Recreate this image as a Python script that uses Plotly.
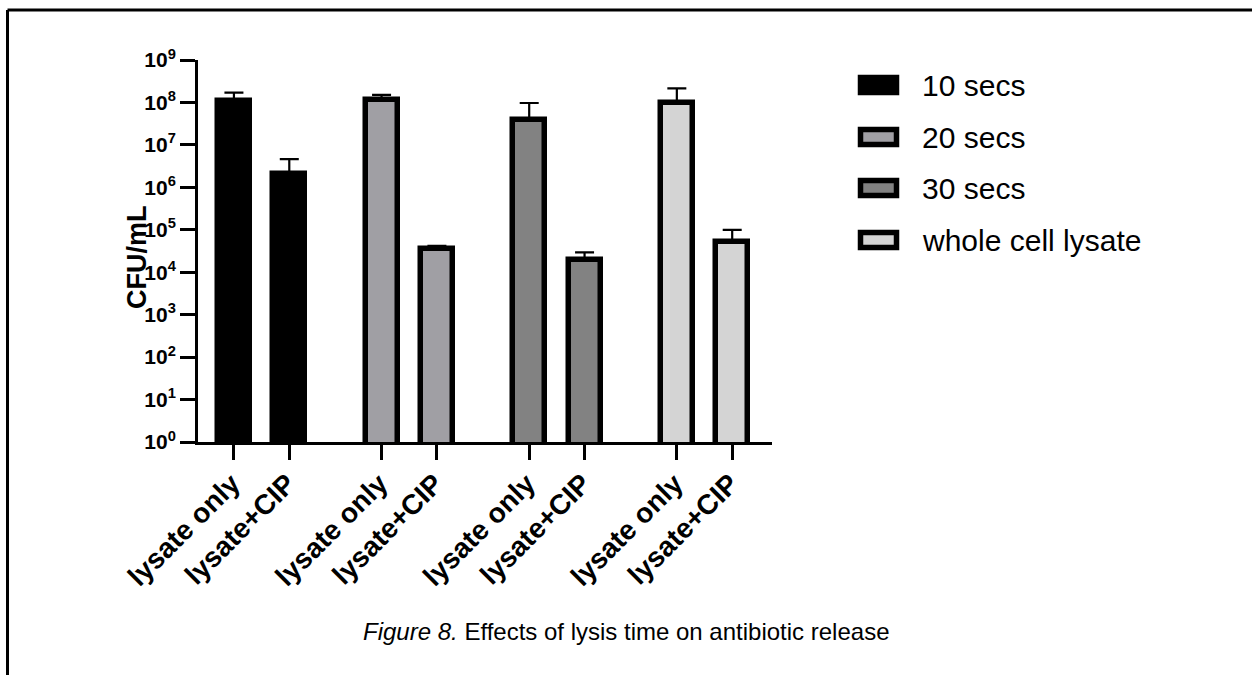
import plotly.graph_objects as go

# ---- data -------------------------------------------------------------
groups = ["10 secs", "20 secs", "30 secs", "whole cell lysate"]
conditions = ["lysate only", "lysate+CIP"]
# mean CFU/mL for (lysate only, lysate+CIP) in each lysis-time group
means = {
    "10 secs": [1.1e8, 2.1e6],
    "20 secs": [1.15e8, 3.45e4],
    "30 secs": [3.8e7, 1.9e4],
    "whole cell lysate": [9.8e7, 5.15e4],
}
# upper error (value + error) for each bar
upper = {
    "10 secs": [1.7e8, 4.6e6],
    "20 secs": [1.5e8, 4.2e4],
    "30 secs": [9.7e7, 2.95e4],
    "whole cell lysate": [2.15e8, 1.0e5],
}
ytick_exponents = list(range(0, 10))

# ---- styling ----------------------------------------------------------
fills = {
    "10 secs": "#000000",
    "20 secs": "#a09fa4",
    "30 secs": "#828282",
    "whole cell lysate": "#d4d4d4",
}
FONT = "Arial, Liberation Sans, sans-serif"
W, H = 1252, 675
L, R, T, B = 198, 772, 60, 442          # plot area in page pixels
GROUP_STEP = 2.667                       # distance between groups (bar pitch = 1)
BAR_W = 0.577

def px_x(px):
    return (px - L) / (R - L)

def px_y(py):
    return (B - py) / (B - T)

fig = go.Figure()
tickvals, ticktext = [], []
for gi, g in enumerate(groups):
    xs = [gi * GROUP_STEP + ci for ci in range(len(conditions))]
    tickvals += xs
    ticktext += [f"<b>{c}</b>" for c in conditions]
    fig.add_trace(go.Bar(
        x=xs, y=means[g], width=BAR_W, name=g,
        marker=dict(color=fills[g], line=dict(color="black", width=5.5)),
        error_y=dict(type="data", symmetric=False,
                     array=[u - m for u, m in zip(upper[g], means[g])],
                     arrayminus=[0] * len(xs),
                     color="black", thickness=2.2, width=9.5),
        showlegend=False,
    ))

fig.update_layout(
    width=W, height=H,
    margin=dict(l=L, r=W - R, t=T, b=H - B, autoexpand=False),
    paper_bgcolor="white", plot_bgcolor="white",
    font=dict(family=FONT, color="black"),
    bargap=0,
)
fig.update_xaxes(
    range=[-0.649, 9.72], showgrid=False, zeroline=False,
    showline=True, linecolor="black", linewidth=3,
    ticks="outside", ticklen=15, tickwidth=3, tickcolor="black",
    tickvals=tickvals, ticktext=ticktext, tickangle=-45,
    tickfont=dict(size=28, family=FONT, color="black"),
    ticklabelstandoff=-4, ticklabelshift=-2,
    automargin=False,
)
fig.update_yaxes(
    type="log", range=[0, 9], showgrid=False, zeroline=False,
    showline=True, linecolor="black", linewidth=3,
    ticks="outside", ticklen=15, tickwidth=3, tickcolor="black",
    tickvals=[10 ** e for e in ytick_exponents],
    ticktext=[f"<b>10<sup>{e}</sup></b>" for e in ytick_exponents],
    tickfont=dict(size=21, family=FONT, color="black"),
    automargin=False,
)

# y-axis title
fig.add_annotation(
    text="<b>CFU/mL</b>", textangle=-90, showarrow=False,
    xref="paper", yref="paper", x=px_x(137), y=px_y(257),
    xanchor="center", yanchor="middle",
    font=dict(size=27, family=FONT, color="black"),
)

# legend: boxes and labels
legend_rows = [85, 137, 188, 240]
for g, cy in zip(groups, legend_rows):
    fig.add_shape(
        type="rect", xref="paper", yref="paper",
        x0=px_x(860.5), x1=px_x(896.5), y0=px_y(cy - 7.5), y1=px_y(cy + 7.5),
        fillcolor=fills[g], line=dict(color="black", width=5.5),
    )
    fig.add_annotation(
        text=g, showarrow=False, xref="paper", yref="paper",
        x=px_x(920), y=px_y(cy), xanchor="left", yanchor="middle",
        font=dict(size=30, family=FONT, color="black"),
    )

# caption
fig.add_annotation(
    text="<i>Figure 8.</i> Effects of lysis time on antibiotic release",
    showarrow=False, xref="paper", yref="paper",
    x=px_x(W / 2), y=px_y(631), xanchor="center", yanchor="middle",
    font=dict(size=24, family=FONT, color="black"),
)

# frame lines along the top and left edges of the page
fig.add_shape(type="line", xref="paper", yref="paper",
              x0=px_x(7.5), x1=px_x(W + 5), y0=px_y(10), y1=px_y(10),
              line=dict(color="black", width=3))
fig.add_shape(type="line", xref="paper", yref="paper",
              x0=px_x(7.5), x1=px_x(7.5), y0=px_y(10), y1=px_y(H + 5),
              line=dict(color="black", width=3))

fig.write_html("out.html")
